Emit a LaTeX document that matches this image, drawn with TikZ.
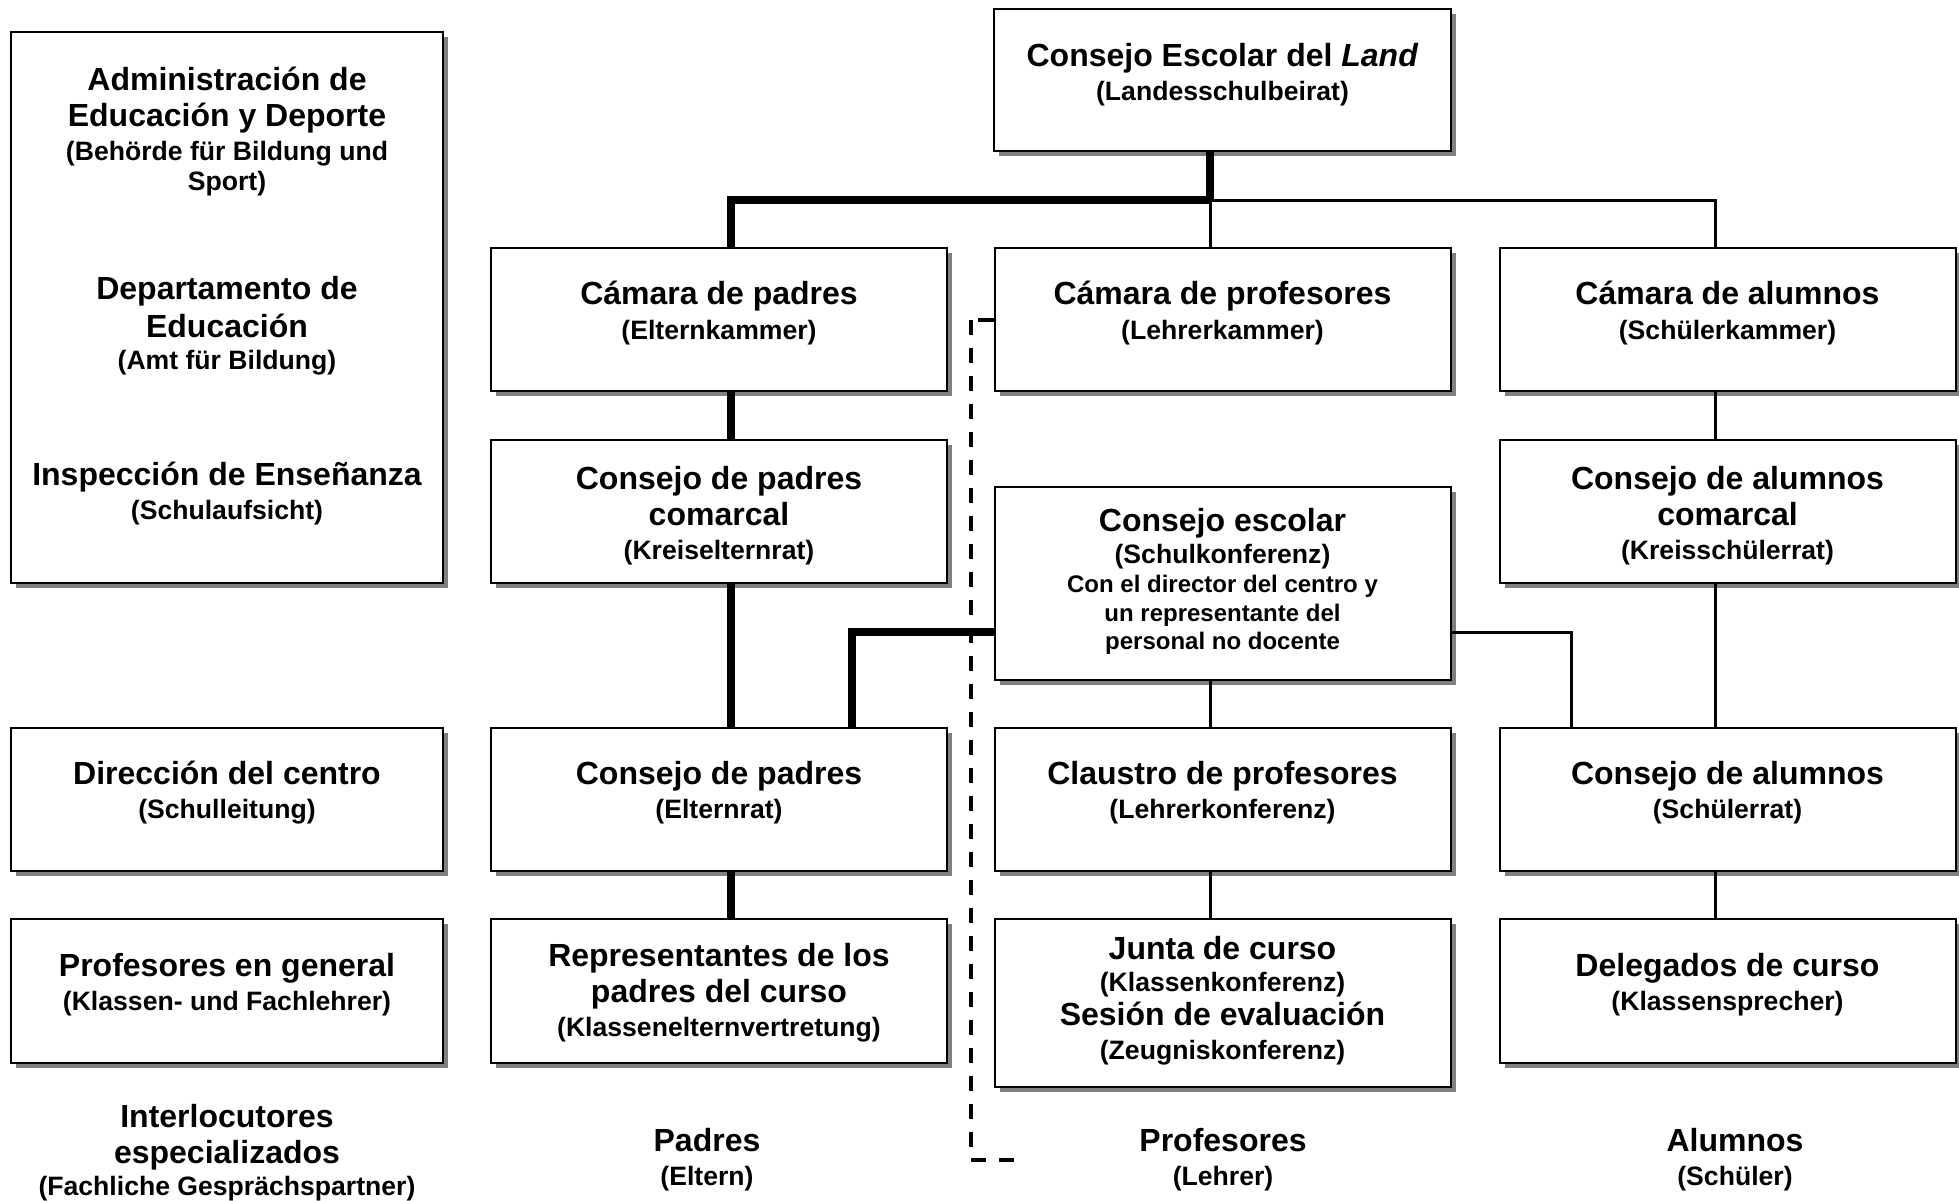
\documentclass[tikz,border=0pt]{standalone}
\usepackage{fontspec}
\setmainfont{Liberation Sans}
\usetikzlibrary{shadows}
\newcommand{\Mf}{\bfseries\fontsize{16}{18}\selectfont}
\newcommand{\Sf}{\bfseries\fontsize{13.3}{15}\selectfont}
\newcommand{\Tf}{\bfseries\fontsize{12}{14}\selectfont}
\begin{document}
\begin{tikzpicture}[x=0.5pt,y=-0.5pt,
  box/.style={draw=black, line width=1pt, fill=white, rectangle, inner sep=0pt,
    drop shadow={fill=black!50, opacity=1, shadow xshift=2.5pt, shadow yshift=-2.5pt}},
  wbox/.style={box, minimum width=228pt, minimum height=71.5pt},
  txt/.style={align=center, font=\Sf, inner sep=0pt},
  thk/.style={line width=4pt},
  thn/.style={line width=1.5pt},
  dsh/.style={line width=2pt, dash pattern=on 7.5pt off 6.5pt}]
\useasboundingbox (0,0) rectangle (1959,1200);
\fill[white] (0,0) rectangle (1959,1200);

% boxes
\node[box, minimum width=216pt, minimum height=275.5pt] (adm) at (227,307.5) {};
\node[box, minimum width=228.5pt, minimum height=71pt] (ctop) at (1222.5,80) {};
\node[wbox] (cpad) at (719,319) {};
\node[wbox] (cprof) at (1222.5,319) {};
\node[wbox] (calum) at (1727.5,319) {};
\node[wbox] (comP) at (719,511.5) {};
\node[wbox] (comA) at (1727.5,511.5) {};
\node[box, minimum width=228pt, minimum height=96.5pt] (cesc) at (1222.5,583.5) {};
\node[box, minimum width=216pt, minimum height=71.5pt] (dir) at (227,799.5) {};
\node[wbox] (consP) at (719,799.5) {};
\node[wbox] (claus) at (1222.5,799.5) {};
\node[wbox] (consA) at (1727.5,799.5) {};
\node[box, minimum width=216pt, minimum height=72pt] (profg) at (227,991) {};
\node[wbox, minimum height=72pt] (repr) at (719,991) {};
\node[box, minimum width=228pt, minimum height=84pt] (junta) at (1222.5,1003) {};
\node[wbox, minimum height=72pt] (deleg) at (1727.5,991) {};

% texts
\node[txt] (tadm1) at (227,132) {\Mf Administración de\\[3pt] \Mf Educación y Deporte\\[2pt] \Sf (Behörde für Bildung und\\ \Sf Sport)};
\node[txt] (tadm2) at (227,326) {\Mf Departamento de\\[3pt] \Mf Educación\\[1pt] \Sf (Amt für Bildung)};
\node[txt] (tadm3) at (227,494) {\Mf Inspección de Enseñanza\\[2pt] \Sf (Schulaufsicht)};
\node[txt] (ttop) at (1222.5,75) {\Mf Consejo Escolar del \textit{Land}\\[2pt] \Sf (Landesschulbeirat)};
\node[txt] (tcpad) at (719,313) {\Mf Cámara de padres\\[2.2pt] \Sf (Elternkammer)};
\node[txt] (tcprof) at (1222.5,313) {\Mf Cámara de profesores\\[2.2pt] \Sf (Lehrerkammer)};
\node[txt] (tcalum) at (1727.5,313) {\Mf Cámara de alumnos\\[2.2pt] \Sf (Schülerkammer)};
\node[txt] (tcomP) at (719,516) {\Mf Consejo de padres\\[3pt] \Mf comarcal\\[2pt] \Sf (Kreiselternrat)};
\node[txt] (tcomA) at (1727.5,516) {\Mf Consejo de alumnos\\[3pt] \Mf comarcal\\[2pt] \Sf (Kreisschülerrat)};
\node[txt] (tcesc) at (1222.5,581) {\Mf Consejo escolar\\[1pt] \Sf (Schulkonferenz)\\[-0.5pt] \Tf Con el director del centro y\\[-0.5pt] \Tf un representante del\\[-1pt] \Tf personal no docente};
\node[txt] (tdir) at (227,793) {\Mf Dirección del centro\\[2pt] \Sf (Schulleitung)};
\node[txt] (tconsP) at (719,793) {\Mf Consejo de padres\\[2pt] \Sf (Elternrat)};
\node[txt] (tclaus) at (1222.5,793) {\Mf Claustro de profesores\\[2pt] \Sf (Lehrerkonferenz)};
\node[txt] (tconsA) at (1727.5,793) {\Mf Consejo de alumnos\\[2pt] \Sf (Schülerrat)};
\node[txt] (tprofg) at (227,985) {\Mf Profesores en general\\[2pt] \Sf (Klassen- und Fachlehrer)};
\node[txt] (trepr) at (719,993) {\Mf Representantes de los\\[3pt] \Mf padres del curso\\[2pt] \Sf (Klasseneltern\-vertretung)};
\node[txt] (tjunta) at (1222.5,1001) {\Mf Junta de curso\\[1pt] \Sf (Klassenkonferenz)\\[2pt] \Mf Sesión de evaluación\\[2pt] \Sf (Zeugniskonferenz)};
\node[txt] (tdeleg) at (1727.5,985) {\Mf Delegados de curso\\[2pt] \Sf (Klassensprecher)};
\node[txt] (tinter) at (227,1153) {\Mf Interlocutores\\[3pt] \Mf especializados\\[1pt] \Sf (Fachliche Gesprächspartner)};
\node[txt] (tpadres) at (707,1160) {\Mf Padres\\[2pt] \Sf (Eltern)};
\node[txt] (tprofes) at (1223,1160) {\Mf Profesores\\[2pt] \Sf (Lehrer)};
\node[txt] (talum) at (1735,1160) {\Mf Alumnos\\[2pt] \Sf (Schüler)};

% connectors
\coordinate (jP) at (731,200);
\coordinate (jT) at (1210,200);
\coordinate (jA) at (1715,200);
\coordinate (jL) at (852,632);
\coordinate (jR) at (1571,632);
\draw[thk] (jT |- ctop.south) -- (jT);
\draw[thk] (jT) -- (jP) -- (jP |- cpad.north);
\draw[thn] (jT) -- (jT |- cprof.north);
\draw[thn] (jT) -- (jA) -- (jA |- calum.north);
\draw[thk] (jP |- cpad.south) -- (jP |- comP.north);
\draw[thk] (jP |- comP.south) -- (jP |- consP.north);
\draw[thk] (jP |- consP.south) -- (jP |- repr.north);
\draw[thk] (cesc.west |- jL) -- (jL) -- (jL |- consP.north);
\draw[thn] (cesc.east |- jR) -- (jR) -- (jR |- consA.north);
\draw[thn] (jT |- cesc.south) -- (jT |- claus.north);
\draw[thn] (jT |- claus.south) -- (jT |- junta.north);
\draw[thn] (jA |- calum.south) -- (jA |- comA.north);
\draw[thn] (jA |- comA.south) -- (jA |- consA.north);
\draw[thn] (jA |- consA.south) -- (jA |- deleg.north);
% dashed
\coordinate (dA) at (971,320);
\coordinate (dB) at (971,1148);
\coordinate (dC) at (971,1160);
\coordinate (dD) at (1015,1160);
\draw[line width=2pt] (cprof.west |- dA) -- ++(-8pt,0);
\draw[dsh] (dA) -- (dB);
\draw[dsh] (dC) -- (dD);
\end{tikzpicture}
\end{document}
